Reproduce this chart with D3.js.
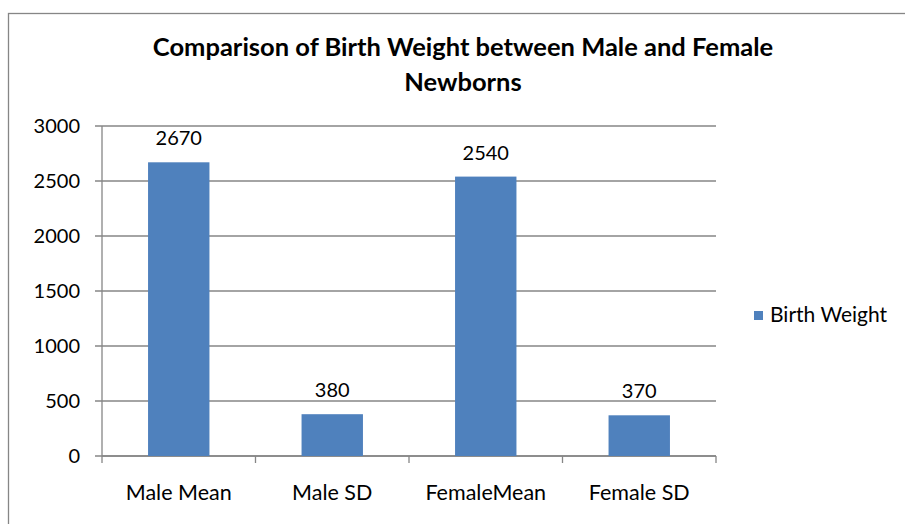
<!DOCTYPE html>
<html lang="en">
<head>
  <meta charset="UTF-8">
  <script src="https://d3js.org/d3.v7.min.js"></script>
  <style>
    body { margin: 0; background: #fff; }
    text { font-family: Lato, "Open Sans", sans-serif; fill: #000; }
    .grid line { stroke: #868686; stroke-width: 1.3px; }
    .axis path, .axis line { stroke: #868686; stroke-width: 1.3px; }
  </style>
</head>
<body>
<script>
// Chart data
const categories = ["Male Mean", "Male SD", "FemaleMean", "Female SD"];
const birthWeight = [2670, 380, 2540, 370];
const yTicks = [0, 500, 1000, 1500, 2000, 2500, 3000];
const seriesName = "Birth Weight";

const width = 905, height = 524;
const plot = { left: 102, right: 716, top: 126, bottom: 456 };

const svg = d3.select("body").append("svg")
  .attr("width", width)
  .attr("height", height);

// outer chart border
svg.append("rect")
  .attr("x", 8.5).attr("y", 13.5)
  .attr("width", 910).attr("height", 530)
  .attr("fill", "none")
  .attr("stroke", "#868686")
  .attr("stroke-width", 1.3);

const x = d3.scaleBand()
  .domain(categories)
  .range([plot.left, plot.right])
  .paddingInner(0.6)
  .paddingOuter(0.3);

const xOuter = d3.scaleBand()
  .domain(categories)
  .range([plot.left, plot.right]);

const y = d3.scaleLinear()
  .domain([0, 3000])
  .range([plot.bottom, plot.top]);

// gridlines
svg.append("g")
  .attr("class", "grid")
  .selectAll("line")
  .data(yTicks)
  .enter().append("line")
  .attr("x1", plot.left - 7)
  .attr("x2", plot.right)
  .attr("y1", d => y(d))
  .attr("y2", d => y(d));

// y axis
svg.append("line")
  .attr("x1", plot.left).attr("x2", plot.left)
  .attr("y1", plot.top).attr("y2", plot.bottom)
  .attr("stroke", "#868686").attr("stroke-width", 1.3);

svg.append("g")
  .selectAll("text")
  .data(yTicks)
  .enter().append("text")
  .attr("x", plot.left - 22)
  .attr("y", d => y(d))
  .attr("dy", "0.35em")
  .attr("text-anchor", "end")
  .style("font-size", "20px")
  .text(d => d);

// x axis with category dividers
const xAxis = svg.append("g")
  .attr("class", "axis")
  .attr("transform", `translate(0,${plot.bottom})`)
  .call(d3.axisBottom(xOuter).tickSize(0).tickFormat(""));
xAxis.select(".domain").remove();
xAxis.append("line")
  .attr("x1", plot.left).attr("x2", plot.right)
  .attr("y1", 0).attr("y2", 0);
xAxis.selectAll(".divider")
  .data(categories.concat(["end"]))
  .enter().append("line")
  .attr("class", "divider")
  .attr("x1", (d, i) => plot.left + i * xOuter.step())
  .attr("x2", (d, i) => plot.left + i * xOuter.step())
  .attr("y1", 0).attr("y2", 7);

// bars
svg.selectAll(".bar")
  .data(birthWeight)
  .enter().append("rect")
  .attr("class", "bar")
  .attr("x", (d, i) => x(categories[i]))
  .attr("width", x.bandwidth())
  .attr("y", d => y(d))
  .attr("height", d => plot.bottom - y(d))
  .attr("fill", "#4F81BD");

// value labels
svg.selectAll(".val")
  .data(birthWeight)
  .enter().append("text")
  .attr("class", "val")
  .attr("x", (d, i) => x(categories[i]) + x.bandwidth() / 2)
  .attr("y", d => y(d) - 24)
  .attr("dy", "0.35em")
  .attr("text-anchor", "middle")
  .style("font-size", "20px")
  .text(d => d);

// category labels
svg.selectAll(".cat")
  .data(categories)
  .enter().append("text")
  .attr("class", "cat")
  .attr("x", d => xOuter(d) + xOuter.bandwidth() / 2)
  .attr("y", plot.bottom + 36)
  .attr("dy", "0.35em")
  .attr("text-anchor", "middle")
  .style("font-size", "21.5px")
  .text(d => d);

// title
const title = svg.append("text")
  .attr("x", 463)
  .attr("y", 47)
  .attr("dy", "0.35em")
  .attr("text-anchor", "middle")
  .style("font-size", "25.5px")
  .style("font-weight", "bold");
title.append("tspan").attr("x", 463).text("Comparison of Birth Weight between Male and Female");
title.append("tspan").attr("x", 463).attr("dy", 35).text("Newborns");

// legend
svg.append("rect")
  .attr("x", 754).attr("y", 311)
  .attr("width", 9).attr("height", 9)
  .attr("fill", "#4F81BD");
svg.append("text")
  .attr("x", 770).attr("y", 315)
  .attr("dy", "0.35em")
  .style("font-size", "21px")
  .text(seriesName);
</script>
</body>
</html>
